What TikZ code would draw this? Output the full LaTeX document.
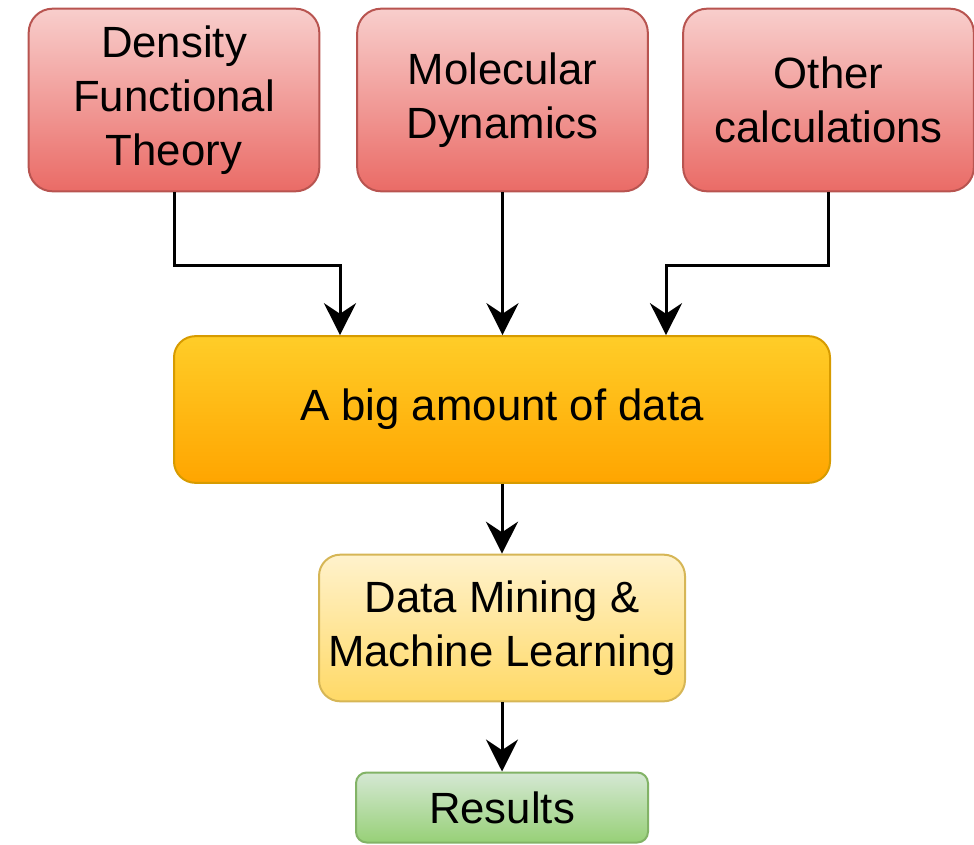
\documentclass[tikz,border=0pt]{standalone}
\usepackage{fontspec}
\setmainfont{Liberation Sans}
\usepackage{tikz}
\usetikzlibrary{arrows.meta}

\definecolor{redtop}{HTML}{F8CECC}
\definecolor{redbot}{HTML}{EA6B66}
\definecolor{redline}{HTML}{B85450}
\definecolor{orgtop}{HTML}{FFCD28}
\definecolor{orgbot}{HTML}{FFA500}
\definecolor{orgline}{HTML}{D79B00}
\definecolor{yeltop}{HTML}{FFF2CC}
\definecolor{yelbot}{HTML}{FFD966}
\definecolor{yelline}{HTML}{D6B656}
\definecolor{grntop}{HTML}{D5E8D4}
\definecolor{grnbot}{HTML}{97D077}
\definecolor{grnline}{HTML}{82B366}

\tikzset{
  box/.style={draw, line width=1.5pt, inner sep=0pt, align=center,
    font=\fontsize{32.8}{40.5}\selectfont},
  source/.style={box, rounded corners=18pt, top color=redtop, bottom color=redbot,
    draw=redline, minimum width=218pt, minimum height=137pt},
  flow/.style={-{Stealth[length=24pt,width=24pt,inset=8pt]}, line width=2.25pt}
}

\begin{document}
\begin{tikzpicture}[x=0.75pt,y=-0.75pt]
  \useasboundingbox (0,0) rectangle (974,845);
  % sources
  \node[source] (dft) at (174,100) {Density\\Functional\\Theory};
  \node[source] (md) at (502.5,100) {Molecular\\Dynamics};
  \node[source] (other) at (828.5,100) {Other\\calculations};
  % data and analysis
  \node[box, rounded corners=16pt, top color=orgtop, bottom color=orgbot, draw=orgline,
    minimum width=492pt, minimum height=110pt] (data) at (502,409.5) {A big amount of data};
  \node[box, rounded corners=16pt, top color=yeltop, bottom color=yelbot, draw=yelline,
    minimum width=274.5pt, minimum height=110pt] (dmml) at (502,628) {Data Mining \&\\Machine Learning};
  \node[box, rounded corners=8pt, top color=grntop, bottom color=grnbot, draw=grnline,
    minimum width=219pt, minimum height=52.5pt] (res) at (502,807.5) {Results};
  % connectors
  \draw[flow] (dft.south) -- ++(0,73) -| ([xshift=-121.5pt]data.north);
  \draw[flow] (md.south) -- (md.south |- data.north);
  \draw[flow] (other.south) -- ++(0,73) -| ([xshift=123pt]data.north);
  \draw[flow] (data) -- (dmml);
  \draw[flow] (dmml) -- (res);
\end{tikzpicture}
\end{document}
